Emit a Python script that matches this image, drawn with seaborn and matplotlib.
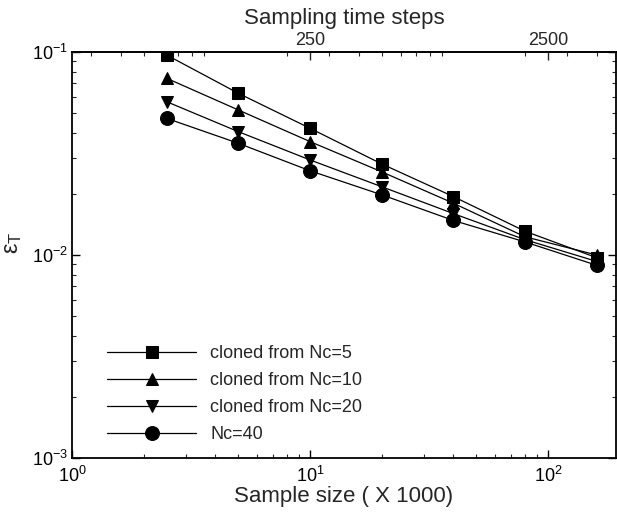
import numpy as np
import pandas as pd
import seaborn as sns
import matplotlib
matplotlib.use("Agg")
import matplotlib.pyplot as plt
from matplotlib.ticker import FixedLocator, LogLocator, FuncFormatter, NullFormatter

# ---- data ----
sample_size = [2.5, 5, 10, 20, 40, 80, 160]
err_nc5 = [0.0966, 0.0626, 0.0421, 0.0281, 0.0194, 0.0131, 0.0097]
err_nc10 = [0.0742, 0.0518, 0.0362, 0.0257, 0.0180, 0.0123, 0.0100]
err_nc20 = [0.0569, 0.0405, 0.0294, 0.0217, 0.0160, 0.0119, 0.0093]
err_nc40 = [0.0471, 0.0355, 0.0260, 0.0198, 0.0148, 0.0116, 0.0089]
series_labels = ["cloned from Nc=5", "cloned from Nc=10", "cloned from Nc=20", "Nc=40"]
top_ticks = [250, 2500]

df = pd.concat([
    pd.DataFrame({"x": sample_size, "y": vals, "series": lab})
    for lab, vals in zip(series_labels, [err_nc5, err_nc10, err_nc20, err_nc40])
])

sns.set_theme(style="ticks")
plt.rcParams["font.family"] = ["Liberation Sans", "DejaVu Sans"]
plt.rcParams["mathtext.default"] = "regular"
plt.rcParams["xtick.direction"] = "in"
plt.rcParams["ytick.direction"] = "in"

fig = plt.figure(figsize=(6.17, 5.12), dpi=100)
ax = fig.add_axes([72/617, 1-458/512, (616-72)/617, (458-52)/512])

markers = {series_labels[0]: "s", series_labels[1]: "^", series_labels[2]: "v", series_labels[3]: "o"}
sizes_map = {"s": 8, "^": 9, "v": 9, "o": 10}
palette = {lab: "black" for lab in series_labels}

sns.lineplot(data=df, x="x", y="y", hue="series", style="series", markers=markers,
             dashes=False, palette=palette, ax=ax, linewidth=0.9, legend=True,
             markeredgecolor="black", markersize=9)
for line in ax.get_lines():
    m = line.get_marker()
    if m in sizes_map:
        line.set_markersize(sizes_map[m])

ax.set_xscale("log")
ax.set_yscale("log")
ax.set_xlim(1, 193)
ax.set_ylim(1e-3, 1e-1)

ax.xaxis.set_major_locator(FixedLocator([1, 10, 100]))
ax.xaxis.set_minor_locator(LogLocator(base=10, subs=np.arange(2, 10)))
ax.xaxis.set_minor_formatter(NullFormatter())
ax.xaxis.set_major_formatter(FuncFormatter(lambda v, p: r"$10^{%d}$" % round(np.log10(v))))
ax.yaxis.set_major_locator(FixedLocator([1e-3, 1e-2, 1e-1]))
ax.yaxis.set_minor_locator(LogLocator(base=10, subs=np.arange(2, 10)))
ax.yaxis.set_minor_formatter(NullFormatter())
ax.yaxis.set_major_formatter(FuncFormatter(lambda v, p: r"$10^{%d}$" % round(np.log10(v))))

ax.tick_params(axis="both", which="major", length=6, width=1, labelsize=13, colors="black",
               right=True)
ax.tick_params(axis="both", which="minor", length=3, width=0.8, right=True)
ax.tick_params(axis="x", pad=6)
ax.tick_params(axis="y", pad=3)
for s in ax.spines.values():
    s.set_color("black")
    s.set_linewidth(1.3)

sec = ax.secondary_xaxis("top", functions=(lambda x: x * 25, lambda x: x / 25))
sec.xaxis.set_major_locator(FixedLocator(top_ticks))
sec.xaxis.set_minor_locator(LogLocator(base=10, subs=np.arange(2, 10)))
sec.xaxis.set_minor_formatter(NullFormatter())
sec.xaxis.set_major_formatter(FuncFormatter(lambda v, p: "%d" % v))
sec.tick_params(axis="x", which="major", length=6, width=1, labelsize=13, direction="in", pad=2)
sec.tick_params(axis="x", which="minor", length=3, width=0.8, direction="in")
sec.set_xlabel("Sampling time steps", fontsize=16, labelpad=6)

ax.set_xlabel("Sample size ( X 1000)", fontsize=16, labelpad=0)
ax.set_ylabel(r"$\epsilon_T$", fontsize=17)
ax.yaxis.set_label_coords(-48/544, 0.53)

handles, labels = ax.get_legend_handles_labels()
leg = ax.legend(handles, labels, loc="lower left", bbox_to_anchor=(0.035, -0.003),
                frameon=False, fontsize=13, handlelength=4.9, handletextpad=0.8,
                labelspacing=0.55)

fig.savefig("out.png", dpi=100)
